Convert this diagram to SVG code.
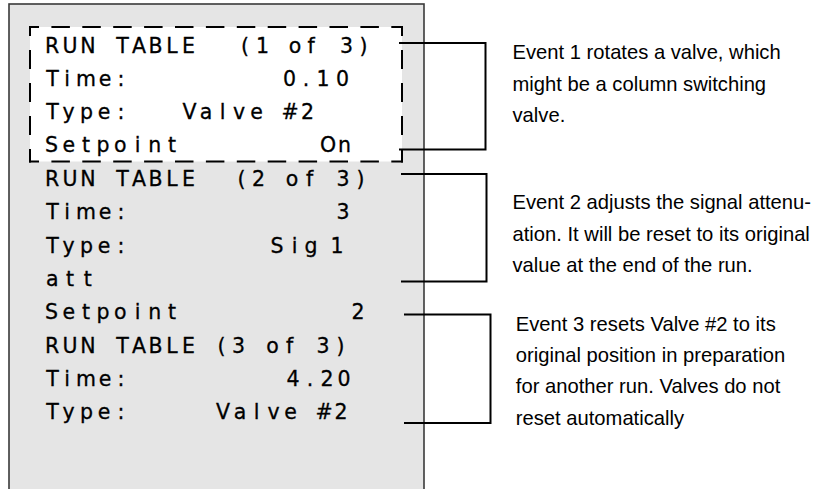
<svg xmlns="http://www.w3.org/2000/svg" width="817" height="489" viewBox="0 0 817 489">
<style>
.bg{fill:#ffffff}
.panel{fill:#e5e5e5;stroke:#3a3a3a;stroke-width:1.6}
.hl{fill:#ffffff}
.dash{fill:none;stroke:#000;stroke-width:2}
.dh{stroke-dasharray:18.5 12.4;stroke-dashoffset:8.5}
.dv{stroke-dasharray:19 14;stroke-dashoffset:9}
.mono{font-family:"DejaVu Sans","Verdana",sans-serif;font-size:20.5px;fill:#000;stroke:#000;stroke-width:0.3;text-anchor:middle}
.note{font-family:"Liberation Sans",Arial,sans-serif;font-size:20.2px;fill:#000}
.conn{fill:none;stroke:#000;stroke-width:2;stroke-linejoin:miter}
</style>
<rect class="bg" x="0" y="0" width="817" height="489"/>
<g id="display-panel">
<rect class="panel" x="9" y="4" width="415" height="500"/>
<g id="event1-highlight">
<rect class="hl" x="30" y="27" width="372" height="134.5"/>
<path class="dash dh" d="M29 27H403"/>
<path class="dash dh" d="M29 161.5H403"/>
<path class="dash dv" d="M30 26V162.5"/>
<path class="dash dv" d="M402 26V162.5"/>
</g>
<g id="run-table-text" class="mono">
<text y="53" x="52 70 88 105 122.5 139 155.5 172 188.5">RUN TABLE</text>
<text y="53" x="245 262.5 279 295 311 329 346.5 363.5">(1 of 3)</text>
<text y="86" x="52.5 67 86 105 121">Time:</text>
<text y="86" x="289.5 306 323 342.5">0.10</text>
<text y="119" x="52.5 68.5 86.5 104 121">Type:</text>
<text y="119" x="189.5 206 222.5 239 256.5 273 290 307.5">Valve #2</text>
<text y="152" x="51.5 68.7 85.9 103.1 120.3 137.5 154.7 171.9">Setpoint</text>
<text y="152" x="328 344.5">On</text>
<text y="186" x="52 70 88 105 122.5 139 155.5 172 188.5">RUN TABLE</text>
<text y="186" x="241.5 258.5 275.5 292 309.5 326.5 343 360.5">(2 of 3)</text>
<text y="219" x="52.5 67 86 105 121">Time:</text>
<text y="219" x="343">3</text>
<text y="252.5" x="52.5 68.5 86.5 104 121">Type:</text>
<text y="252.5" x="277 294.5 311 324 337">Sig 1</text>
<text y="286" x="52.3 70 87.7">att</text>
<text y="319" x="51.5 68.7 85.9 103.1 120.3 137.5 154.7 171.9">Setpoint</text>
<text y="319" x="358">2</text>
<text y="353" x="52 70 88 105 122.5 139 155.5 172 188.5 205 221.5 238.5 255.5 272.5 289.5 306.5 323 340.5">RUN TABLE (3 of 3)</text>
<text y="386" x="52.5 67 86 105 121">Time:</text>
<text y="386" x="293 310 327 344">4.20</text>
<text y="419" x="52.5 68.5 86.5 104 121">Type:</text>
<text y="419" x="223 240 256.5 273.5 290.5 307 324 341">Valve #2</text>
</g>
</g>
<g id="connectors">
<polyline class="conn" points="399,43 485.5,43 485.5,149.5 399,149.5"/>
<polyline class="conn" points="401,174 486.5,174 486.5,281.5 401,281.5"/>
<polyline class="conn" points="404,314.5 490.5,314.5 490.5,423 404,423"/>
</g>
<g id="note-event1" class="note">
<text x="512.5" y="59.3">Event 1 rotates a valve, which</text>
<text x="512.5" y="90.5">might be a column switching</text>
<text x="512.5" y="121.7">valve.</text>
</g>
<g id="note-event2" class="note">
<text x="512.5" y="209.3">Event 2 adjusts the signal attenu-</text>
<text x="512.5" y="240.5">ation. It will be reset to its original</text>
<text x="512.5" y="271.7">value at the end of the run.</text>
</g>
<g id="note-event3" class="note">
<text x="515.8" y="331">Event 3 resets Valve #2 to its</text>
<text x="515.8" y="362.2">original position in preparation</text>
<text x="515.8" y="393.4">for another run. Valves do not</text>
<text x="515.8" y="424.6">reset automatically</text>
</g>
</svg>
